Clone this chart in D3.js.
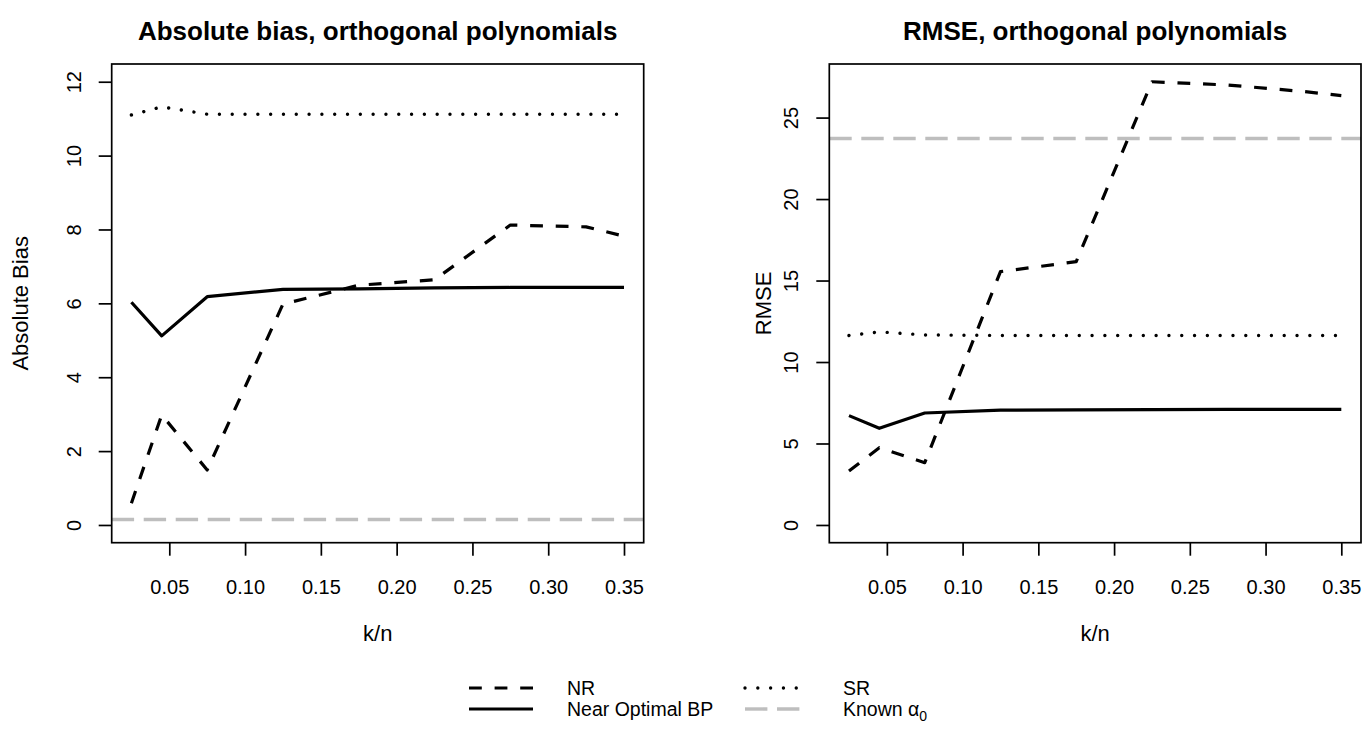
<!DOCTYPE html>
<html>
<head>
<meta charset="utf-8">
<script src="https://cdn.jsdelivr.net/npm/d3@7/dist/d3.min.js"></script>
<style>
  body { margin: 0; background: #fff; }
  svg { display: block; }
  text { font-family: "Liberation Sans", Arial, Helvetica, sans-serif; fill: #000; }
</style>
</head>
<body>
<svg id="chart" width="1365" height="738"></svg>
<script>
// k/n grid
const kn = [0.025, 0.045, 0.075, 0.125, 0.175, 0.225, 0.275, 0.325, 0.35];

// Absolute bias
const biasNR   = [0.59, 2.98, 1.49, 5.98, 6.49, 6.64, 8.12, 8.07, 7.82];
const biasSR   = [11.10, 11.32, 11.12, 11.12, 11.12, 11.12, 11.12, 11.12, 11.12];
const biasBP   = [6.03, 5.12, 6.18, 6.38, 6.39, 6.42, 6.43, 6.43, 6.43];
const biasKnown = 0.15;

// RMSE
const rmseNR   = [3.31, 4.74, 3.82, 15.55, 16.16, 27.2, 27.0, 26.6, 26.35];
const rmseSR   = [11.63, 11.85, 11.66, 11.63, 11.63, 11.63, 11.63, 11.63, 11.63];
const rmseBP   = [6.71, 5.93, 6.87, 7.05, 7.06, 7.08, 7.09, 7.09, 7.09];
const rmseKnown = 23.72;

const xTicks = [0.05, 0.10, 0.15, 0.20, 0.25, 0.30, 0.35];
const biasTicks = [0, 2, 4, 6, 8, 10, 12];
const rmseTicks = [0, 5, 10, 15, 20, 25];

const legendLabels = ["NR", "Near Optimal BP", "SR", "Known"];

const svg = d3.select("#chart");
const TICK_FONT = 20;
const LAB_FONT = 22;
const MAIN_FONT = 26;

// line styles (R-like lty patterns)
const styles = {
  NR:    { color: "#000", width: 3.2, dash: "12.8,12.8" },
  SR:    { color: "#000", width: 3.4, dash: "0.01,12.8", cap: "round" },
  BP:    { color: "#000", width: 3.2, dash: null },
  Known: { color: "#BEBEBE", width: 3.4, dash: "22.4,9.6" }
};

function pad4(lo, hi) { const d = (hi - lo) * 0.04; return [lo - d, hi + d]; }

const panels = [
  { title: "Absolute bias, orthogonal polynomials", ylab: "Absolute Bias",
    left: 111.7, right: 643.7, ylabX: 20, tickLabX: 74,
    ylim: [0, 12], yTicks: biasTicks,
    nr: biasNR, sr: biasSR, bp: biasBP, known: biasKnown },
  { title: "RMSE, orthogonal polynomials", ylab: "RMSE",
    left: 829.3, right: 1361, ylabX: 763, tickLabX: 791,
    ylim: [0, d3.max(rmseNR)], yTicks: rmseTicks,
    nr: rmseNR, sr: rmseSR, bp: rmseBP, known: rmseKnown }
];

const plotTop = 64, plotBottom = 542.7;

panels.forEach((p, i) => {
  const x = d3.scaleLinear().domain(pad4(d3.min(kn), d3.max(kn))).range([p.left, p.right]);
  const y = d3.scaleLinear().domain(pad4(p.ylim[0], p.ylim[1])).range([plotBottom, plotTop]);
  const g = svg.append("g");

  const clipId = "clip" + i;
  svg.append("clipPath").attr("id", clipId)
    .append("rect").attr("x", p.left).attr("y", plotTop)
    .attr("width", p.right - p.left).attr("height", plotBottom - plotTop);

  const plot = g.append("g").attr("clip-path", `url(#${clipId})`);

  // horizontal reference line for the known alpha
  const st = styles.Known;
  plot.append("line")
    .attr("x1", p.left).attr("x2", p.right)
    .attr("y1", y(p.known)).attr("y2", y(p.known))
    .attr("stroke", st.color).attr("stroke-width", st.width)
    .attr("stroke-dasharray", st.dash);

  const line = d3.line().x((d, j) => x(kn[j])).y(d => y(d));
  [["NR", p.nr], ["SR", p.sr], ["BP", p.bp]].forEach(([k, vals]) => {
    const s = styles[k];
    plot.append("path").attr("d", line(vals))
      .attr("fill", "none").attr("stroke", s.color)
      .attr("stroke-width", s.width)
      .attr("stroke-linejoin", "round")
      .attr("stroke-linecap", s.cap || "butt")
      .attr("stroke-dasharray", s.dash);
  });

  // box
  g.append("rect").attr("x", p.left).attr("y", plotTop)
    .attr("width", p.right - p.left).attr("height", plotBottom - plotTop)
    .attr("fill", "none").attr("stroke", "#000").attr("stroke-width", 1.7);

  // x axis
  const xa = g.append("g").attr("transform", `translate(0,${plotBottom})`)
    .call(d3.axisBottom(x).tickValues(xTicks).tickFormat(d3.format(".2f"))
      .tickSize(13).tickPadding(24));
  xa.select(".domain").remove();
  xa.selectAll("line").attr("stroke", "#000").attr("stroke-width", 1.7);
  xa.selectAll("text").attr("font-size", TICK_FONT).attr("font-family", null).attr("fill", "#000");

  // y axis
  const ya = g.append("g").attr("transform", `translate(${p.left},0)`)
    .call(d3.axisLeft(y).tickValues(p.yTicks).tickSize(13));
  ya.select(".domain").remove();
  ya.selectAll("line").attr("stroke", "#000").attr("stroke-width", 1.7);
  ya.selectAll("text")
    .attr("font-size", TICK_FONT).attr("font-family", null).attr("fill", "#000")
    .attr("x", null)
    .attr("text-anchor", "middle")
    .attr("transform", `translate(${p.tickLabX - p.left},0) rotate(-90)`)
    .attr("dy", "0.36em");

  // titles
  const cx = (p.left + p.right) / 2;
  g.append("text").attr("x", cx).attr("y", 40)
    .attr("text-anchor", "middle").attr("font-size", MAIN_FONT).attr("font-weight", "bold")
    .text(p.title);
  g.append("text").attr("x", cx).attr("y", 641)
    .attr("text-anchor", "middle").attr("font-size", LAB_FONT).text("k/n");
  g.append("text")
    .attr("transform", `translate(${p.ylabX},${(plotTop + plotBottom) / 2}) rotate(-90)`)
    .attr("text-anchor", "middle").attr("dy", "0.36em").attr("font-size", LAB_FONT)
    .text(p.ylab);
});

// legend
const legendItems = [
  { key: "NR", label: legendLabels[0], x: 469, y: 688 },
  { key: "BP", label: legendLabels[1], x: 469, y: 709 },
  { key: "SR", label: legendLabels[2], x: 745, y: 688 },
  { key: "Known", label: legendLabels[3], x: 745, y: 709 }
];
const lg = svg.append("g");
legendItems.forEach(it => {
  const s = styles[it.key];
  lg.append("line").attr("x1", it.x).attr("x2", it.x + 64)
    .attr("y1", it.y).attr("y2", it.y)
    .attr("stroke", s.color).attr("stroke-width", s.width)
    .attr("stroke-linecap", s.cap || "butt")
    .attr("stroke-dasharray", s.dash);
  const t = lg.append("text").attr("x", it.x + 98).attr("y", it.y + 7)
    .attr("font-size", 19.5);
  t.append("tspan").text(it.label);
  if (it.key === "Known") {
    t.append("tspan").text(" α");
    t.append("tspan").attr("font-size", 14).attr("dy", 5).text("0");
  }
});
</script>
</body>
</html>
